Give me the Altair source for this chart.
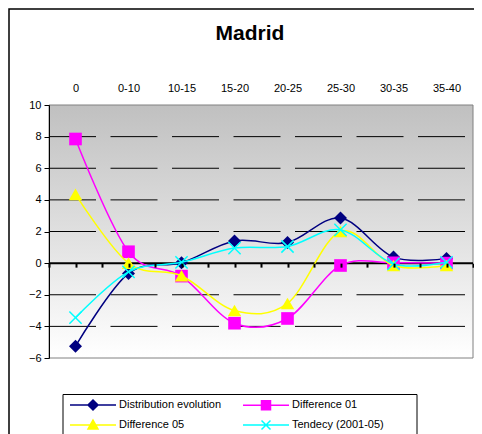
import json
import altair as alt
import pandas as pd

categories = ["0", "0-10", "10-15", "15-20", "20-25", "25-30", "30-35", "35-40"]
series_names = ["Distribution evolution", "Difference 01", "Difference 05", "Tendecy (2001-05)"]
dist_evolution = [-5.25, -0.65, 0.02, 1.4, 1.3, 2.85, 0.38, 0.3]
difference_01 = [7.85, 0.72, -0.82, -3.8, -3.5, -0.15, 0.02, 0.0]
difference_05 = [4.35, 0.0, -0.8, -3.0, -2.55, 2.0, -0.15, -0.15]
tendecy = [-3.45, -0.55, 0.05, 0.95, 1.05, 2.1, -0.05, 0.05]
y_ticks = [-6, -4, -2, 0, 2, 4, 6, 8, 10]
grid_values = [-4, -2, 2, 4, 6, 8]

colors = ["#000080", "#FF00FF", "#FFFF00", "#00FFFF"]
all_values = [dist_evolution, difference_01, difference_05, tendecy]

rows = []
for name, vals in zip(series_names, all_values):
    for i, (c, v) in enumerate(zip(categories, vals)):
        rows.append({"series": name, "idx": i, "cat": c, "value": v})
df = pd.DataFrame(rows)

W, H = 424, 253
FONT = "Liberation Sans"
xscale = alt.Scale(domain=[-0.5, len(categories) - 0.5], nice=False, zero=False)
yscale = alt.Scale(domain=[-6, 10], nice=False, zero=False)
label_expr = json.dumps(categories) + "[datum.value]"

top_axis = alt.Axis(orient="top", values=list(range(len(categories))), labelExpr=label_expr,
                    ticks=False, domain=False, grid=False, title=None, labelFont=FONT,
                    labelFontSize=11, labelColor="black", labelPadding=12, labelAngle=0, zindex=1)
y_axis = alt.Axis(orient="left", values=y_ticks, title=None, domain=True, domainColor="black",
                  domainWidth=1, ticks=True, tickColor="black", tickSize=5,
                  labelFont=FONT, labelFontSize=11, labelColor="black", labelPadding=3,
                  grid=False, zindex=1)

shapes = ["diamond", "square", "triangle-up", "M-1,-1L1,1M-1,1L1,-1"]
sizes = [169, 160, 180, 150]
filled = [True, True, True, False]

layers = []
one = pd.DataFrame({"a": [0]})
# outer frame
frame = alt.Chart(one).mark_rect(fill="transparent", stroke="black", strokeWidth=1.5).encode(
    x=alt.value(-40), x2=alt.value(W + 60), y=alt.value(-96), y2=alt.value(H + 200))
layers.append(frame)
# legend box
legbox = alt.Chart(one).mark_rect(fill="white", stroke="black", strokeWidth=1).encode(
    x=alt.value(14), x2=alt.value(368), y=alt.value(289.5), y2=alt.value(H + 200))
layers.append(legbox)
# plot-area gradient background
bg = alt.Chart(one).mark_rect(
    color=alt.Gradient(gradient="linear", x1=0, y1=0, x2=0, y2=1,
                       stops=[alt.GradientStop(offset=0, color="#c0c0c0"),
                              alt.GradientStop(offset=1, color="#ffffff")]),
    stroke="#808080", strokeWidth=1,
).encode(x=alt.value(0), x2=alt.value(W), y=alt.value(0), y2=alt.value(H))
layers.append(bg)
# dashed gridlines + y axis
grid = alt.Chart(pd.DataFrame({"g": grid_values})).mark_rule(
    color="black", strokeWidth=1, strokeDash=[47, 14.5]).encode(
    x=alt.value(0), x2=alt.value(W),
    y=alt.Y("g:Q", scale=yscale, axis=y_axis))
layers.append(grid)
# zero line
zero = alt.Chart(pd.DataFrame({"z": [0]})).mark_rule(color="black", strokeWidth=2).encode(
    x=alt.value(0), x2=alt.value(W),
    y=alt.Y("z:Q", scale=yscale, axis=None))
layers.append(zero)

first = True
for name, col, shp, sz, fl in zip(series_names, colors, shapes, sizes, filled):
    base = alt.Chart(df).transform_filter(alt.datum.series == name)
    xa = top_axis if first else None
    line = base.mark_line(color=col, strokeWidth=1.5, interpolate="cardinal").encode(
        x=alt.X("idx:Q", scale=xscale, axis=xa),
        y=alt.Y("value:Q", scale=yscale, axis=None),
        order="idx:Q",
    )
    pts = base.mark_point(shape=shp, size=sz, filled=fl, color=col, opacity=1,
                          strokeWidth=1.5 if not fl else 0).encode(
        x=alt.X("idx:Q", scale=xscale, axis=None),
        y=alt.Y("value:Q", scale=yscale, axis=None),
    )
    layers += [line, pts]
    first = False

# legend + zero-line tick axis layer
leg_paths = [
    "M-4.6,0H4.6M0,-1L1,0L0,1L-1,0Z",
    "M-4.6,0H4.6M-0.9,-0.9H0.9V0.9H-0.9Z",
    "M-4.6,0H4.6M0,-1L1,0.8H-1Z",
    "M-4.6,0H4.6M-0.9,-0.9L0.9,0.9M-0.9,0.9L0.9,-0.9",
]
legend = alt.Legend(title=None, orient="none", direction="horizontal", legendX=13, legendY=289,
                    columns=2, columnPadding=18, rowPadding=4,
                    labelFont=FONT, labelFontSize=11,
                    labelColor="black", labelOffset=20, symbolSize=100, symbolStrokeWidth=1.5,
                    symbolOpacity=1, padding=5, symbolOffset=20, zindex=1)
bottom_axis = alt.Axis(orient="bottom", offset=-(H * 6 / 16), values=[i * 0.5 - 0.5 for i in range(17)],
                       labels=False, ticks=True, tickSize=4, tickWidth=2, tickColor="black",
                       domain=False, grid=False, title=None, zindex=1)
leg_df = pd.DataFrame({"series": series_names, "idx": [0] * 4, "value": [0] * 4})
leg_layer = alt.Chart(leg_df).transform_filter("false").mark_point(filled=True, opacity=1).encode(
    x=alt.X("idx:Q", scale=xscale, axis=bottom_axis),
    y=alt.Y("value:Q", scale=yscale, axis=None),
    fill=alt.Fill("series:N", scale=alt.Scale(domain=series_names, range=colors), legend=legend),
    stroke=alt.Stroke("series:N", scale=alt.Scale(domain=series_names, range=colors), legend=legend),
    shape=alt.Shape("series:N", scale=alt.Scale(domain=series_names, range=leg_paths), legend=legend),
)
layers.append(leg_layer)

chart = alt.layer(*layers).resolve_axis(x="independent", y="independent").properties(
    width=W, height=H,
    title=alt.TitleParams("Madrid", font=FONT, fontSize=21, fontWeight="bold", color="black",
                          anchor="middle", dx=-11, offset=-36),
    autosize=alt.AutoSizeParams(type="none"),
    padding={"left": 41, "top": 97, "right": 1, "bottom": 76},
    background="white",
).configure_view(stroke=None)

chart.save("out.html", embed_options={"renderer": "svg", "actions": False})
